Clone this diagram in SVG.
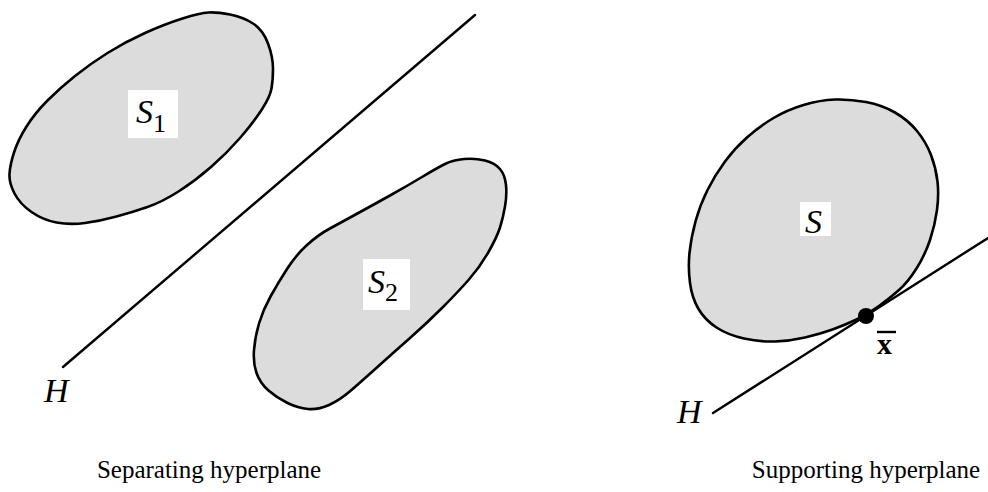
<svg xmlns="http://www.w3.org/2000/svg" width="988" height="492" viewBox="0 0 988 492">
<style>
.set{fill:#dcdcdc;stroke:#000;stroke-width:2.6;stroke-linejoin:round}
.ln{stroke:#000;stroke-width:2.4;fill:none;stroke-linecap:round}
.lab{font-family:"Liberation Serif","Times New Roman",serif;font-style:italic;font-size:34px;fill:#000}
.sub{font-style:normal;font-size:26px}
.cap{font-family:"Liberation Serif","Times New Roman",serif;font-size:25px;fill:#000;text-anchor:middle}
.box{fill:#fff}
</style>
<rect width="988" height="492" fill="#fff"/>
<g id="S1">
<path class="set" d="M208.5,12.5 Q217,12 230,14.5 Q243,17 253,23.5 Q263,30 268,43.5 Q273,57 273,68.5 Q273,80 271.5,88.5 Q270,97 261.5,110 Q253,123 240,138 Q227,153 211,167 Q195,181 178.5,191.5 Q162,202 147.5,207 Q133,212 116.5,216.5 Q100,221 85,223 Q70,225 56.5,222.5 Q43,220 31.5,212 Q20,204 14.5,193.5 Q9,183 9.5,174 Q10,165 14,152.5 Q18,140 26.5,126.5 Q35,113 47.5,100.5 Q60,88 75,76 Q90,64 107.5,53 Q125,42 145,33 Q165,24 182.5,18.5 Q200,13 208.5,12.5 Z"/>
<rect class="box" x="128" y="90" width="50" height="48"/>
<text class="lab" x="136" y="123">S<tspan class="sub" dy="9">1</tspan></text>
</g>
<g id="S2">
<path class="set" d="M464,159 Q475,158 485,160.5 Q495,163 500,169 Q505,175 506,185 Q507,195 505,206.5 Q503,218 500,227.5 Q497,237 488.5,252 Q480,267 468.5,280 Q457,293 442,308 Q427,323 410,338 Q393,353 378,366.5 Q363,380 351.5,390 Q340,400 329,405 Q318,410 308,409 Q298,408 287.5,403 Q277,398 268.5,390.5 Q260,383 256.5,373 Q253,363 254,350 Q255,337 259,323.5 Q263,310 270.5,296.5 Q278,283 287,269 Q296,255 307,245 Q318,235 329,229 Q340,223 356.5,214 Q373,205 390,195.5 Q407,186 422,177 Q437,168 445,164 Q453,160 464,159 Z"/>
<rect class="box" x="363" y="259" width="47" height="51"/>
<text class="lab" x="368" y="293">S<tspan class="sub" dy="8">2</tspan></text>
</g>
<g id="S">
<path class="set" d="M835,99.5 Q850,99 866,102 Q882,105 895,112.5 Q908,120 917,131 Q926,142 931,155 Q936,168 937.5,181.5 Q939,195 937,210 Q935,225 930,240 Q925,255 916.5,268.5 Q908,282 899,290 Q890,298 879,306 Q868,314 856.5,319.5 Q845,325 832.5,329.5 Q820,334 805,337.5 Q790,341 775,341.5 Q760,342 744,338.5 Q728,335 716.5,327.5 Q705,320 698.5,309 Q692,298 690,283 Q688,268 689.5,253 Q691,238 695.5,221.5 Q700,205 707.5,190 Q715,175 725,161.5 Q735,148 747.5,137 Q760,126 773.5,118 Q787,110 803.5,105 Q820,100 835,99.5 Z"/>
<rect class="box" x="800" y="202" width="31" height="34"/>
<text class="lab" x="805" y="233">S</text>
</g>
<g id="connectors">
<line class="ln" x1="63" y1="367" x2="475" y2="15"/>
<line class="ln" x1="713" y1="413" x2="988" y2="238"/>
</g>
<g id="xbar">
<circle cx="866" cy="316" r="8" fill="#000"/>
<line x1="877" y1="332" x2="896" y2="332" stroke="#000" stroke-width="2.4"/>
<text x="877" y="354" font-family="Liberation Serif, serif" font-weight="bold" font-size="30">x</text>
</g>
<g id="labels">
<text class="lab" x="44" y="402">H</text>
<text class="lab" x="677" y="423">H</text>
<text class="cap" x="209" y="478">Separating hyperplane</text>
<text class="cap" x="866" y="478">Supporting hyperplane</text>
</g>
</svg>
